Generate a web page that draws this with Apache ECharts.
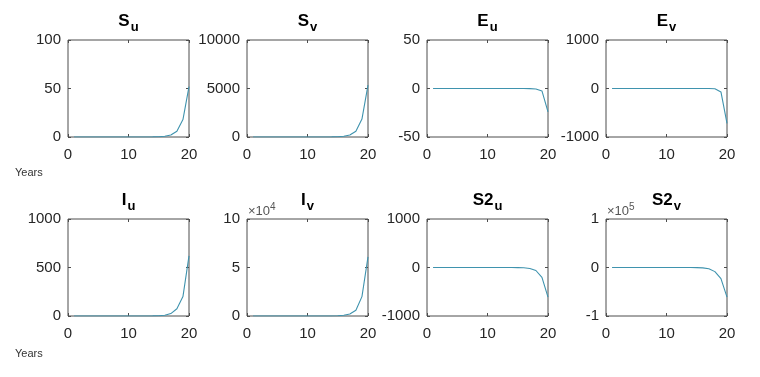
<!DOCTYPE html>
<html>
<head>
<meta charset="utf-8">
<title>ECharts</title>
<script src="https://cdn.jsdelivr.net/npm/echarts@6/dist/echarts.min.js"></script>
<style>
  html, body { margin: 0; padding: 0; background: #fff; }
</style>
</head>
<body>
<div id="main" style="width:760px;height:377px;"></div>
<script type="text/javascript">
// years on the x axis
var years = [1, 2, 3, 4, 5, 6, 7, 8, 9, 10, 11, 12, 13, 14, 15, 16, 17, 18, 19, 20];

// series values
var Su  = [0, 0, 0, 0, 0, 0, 0, 0, 0, 0, 0.01, 0.02, 0.05, 0.1, 0.25, 0.7, 2, 6, 18, 52];
var Sv  = [0, 0, 0, 0, 0, 0, 0, 0, 0, 0, 0.5, 1, 3, 8, 25, 70, 200, 590, 1850, 5350];
var Eu  = [0, 0, 0, 0, 0, 0, 0, 0, 0, 0, 0, 0, 0, 0, 0, 0, -0.1, -0.5, -2.5, -24];
var Ev  = [0, 0, 0, 0, 0, 0, 0, 0, 0, 0, 0, 0, 0, 0, 0, 0, -1, -5, -70, -720];
var Iu  = [0, 0, 0, 0, 0, 0, 0, 0, 0, 0, 0.1, 0.3, 0.5, 1, 3, 8, 25, 75, 200, 620];
var Iv  = [0, 0, 0, 0, 0, 0, 0, 0, 0, 0, 2, 6, 20, 60, 200, 700, 2000, 6000, 20000, 61000];
var S2u = [0, 0, 0, 0, 0, 0, 0, 0, 0, 0, -0.1, -0.2, -0.5, -1, -2, -6, -20, -62, -205, -610];
var S2v = [0, 0, 0, 0, 0, 0, 0, 0, 0, 0, 0, -5, -15, -50, -200, -700, -2500, -8500, -23000, -61000];

// panel labels and y ranges
var titleMain = ['S', 'S', 'E', 'E', 'I', 'I', 'S2', 'S2'];
var titleSub  = ['u', 'v', 'u', 'v', 'u', 'v', 'u', 'v'];
var seriesList = [Su, Sv, Eu, Ev, Iu, Iv, S2u, S2v];
var yMin = [0, 0, -50, -1000, 0, 0, -1000, -100000];
var yMax = [100, 10000, 50, 1000, 1000, 100000, 1000, 100000];
var yStep = [50, 5000, 50, 1000, 500, 50000, 1000, 100000];
var yScale = [1, 1, 1, 1, 1, 10000, 1, 100000];
var yExp = ['', '', '', '', '', '4', '', '5'];

var myChart = echarts.init(document.getElementById('main'));

var lefts = [68, 247, 427, 606];
var tops = [40, 219];
var boxW = 121, boxH = 97;
var txt = '#262626';
var font = 'Liberation Sans';
var mainFont = 'bold 17px "Liberation Sans"';
var subFont = 'bold 13px "Liberation Sans"';
var expFont = '13px "Liberation Sans"';

// measure title pieces so main+subscript is centred over the box
var ctx = document.createElement('canvas').getContext('2d');
function textW(s, f) { ctx.font = f; return ctx.measureText(s).width; }

var grid = [], xAxis = [], yAxis = [], series = [], graphic = [];

for (var i = 0; i < 8; i++) {
    var col = i % 4, row = Math.floor(i / 4);
    var l = lefts[col], t = tops[row];
    grid.push({
        left: l, top: t, width: boxW, height: boxH,
        show: true, borderColor: '#4d4d4d', borderWidth: 1, backgroundColor: '#fff'
    });
    var axLine = { show: false, onZero: false };
    var tick = { show: true, inside: true, length: 3, lineStyle: { color: '#4d4d4d' } };
    xAxis.push({
        type: 'value', gridIndex: i, min: 0, max: 20, interval: 10,
        axisLine: axLine, axisTick: tick, splitLine: { show: false },
        axisLabel: { color: txt, fontSize: 15, fontFamily: font, margin: 10 }
    });
    xAxis.push({
        type: 'value', gridIndex: i, position: 'top', min: 0, max: 20, interval: 10,
        axisLine: axLine, axisTick: tick, splitLine: { show: false }, axisLabel: { show: false }
    });
    (function (sc) {
        yAxis.push({
            type: 'value', gridIndex: i, min: yMin[i], max: yMax[i], interval: yStep[i],
            axisLine: axLine, axisTick: tick, splitLine: { show: false },
            axisLabel: {
                color: txt, fontSize: 15, fontFamily: font, margin: 7,
                formatter: function (v) { return String(Math.round(v / sc)); }
            }
        });
    })(yScale[i]);
    yAxis.push({
        type: 'value', gridIndex: i, position: 'right', min: yMin[i], max: yMax[i], interval: yStep[i],
        axisLine: axLine, axisTick: tick, splitLine: { show: false }, axisLabel: { show: false }
    });

    var pts = [];
    for (var k = 0; k < years.length; k++) pts.push([years[k], seriesList[i][k]]);
    series.push({
        type: 'line', xAxisIndex: 2 * i, yAxisIndex: 2 * i, data: pts,
        showSymbol: false, symbol: 'none', smooth: false,
        lineStyle: { color: '#3f93ae', width: 1.1 }, animation: false
    });

    // title: bold letter with a lowered subscript
    var wm = textW(titleMain[i], mainFont), ws = textW(titleSub[i], subFont);
    var x0 = l + boxW / 2 - (wm + ws + 1) / 2;
    graphic.push({
        type: 'text', x: x0, y: t - 27,
        style: { text: titleMain[i], font: mainFont, fill: '#000' }
    });
    graphic.push({
        type: 'text', x: x0 + wm + 1, y: t - 19,
        style: { text: titleSub[i], font: subFont, fill: '#000' }
    });

    // axis exponent above the box
    if (yExp[i]) {
        graphic.push({
            type: 'text', x: l + 1, y: t - 14,
            style: { text: '\u00d710', font: expFont, fill: '#555' }
        });
        graphic.push({
            type: 'text', x: l + 1 + textW('\u00d710', expFont), y: t - 17,
            style: { text: yExp[i], font: '10px "Liberation Sans"', fill: '#555' }
        });
    }
}

graphic.push({ type: 'text', x: 15, y: 167, style: { text: 'Years', font: '11px "Liberation Sans"', fill: '#333' } });
graphic.push({ type: 'text', x: 15, y: 348, style: { text: 'Years', font: '11px "Liberation Sans"', fill: '#333' } });

var option = {
    animation: false,
    backgroundColor: '#fff',
    grid: grid,
    xAxis: xAxis,
    yAxis: yAxis,
    series: series,
    graphic: graphic
};

myChart.setOption(option);
</script>
</body>
</html>
